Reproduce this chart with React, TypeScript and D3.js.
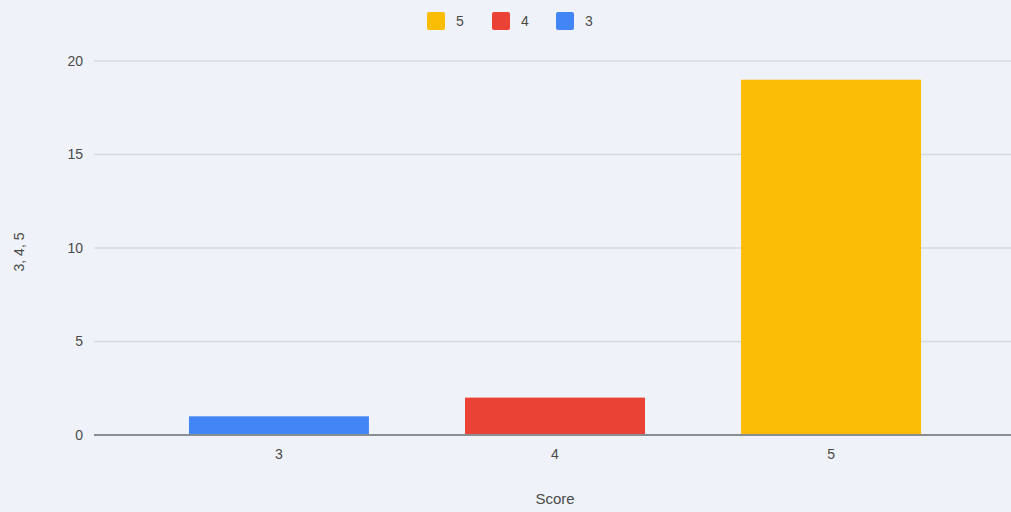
import React from "react";
import * as d3 from "d3";

const categories = ["3", "4", "5"];
const values = [1, 2, 19];
const seriesColors = ["#4285F4", "#EA4335", "#FBBC04"];
const legendItems = ["5", "4", "3"];
const legendColors = ["#FBBC04", "#EA4335", "#4285F4"];
const yTicks = [0, 5, 10, 15, 20];
const xTitle = "Score";
const yTitle = "3, 4, 5";

const W = 1011;
const H = 512;
const left = 94;
const right = 1016;
const top = 61;
const bottom = 435;

export default function App() {
  const x = d3
    .scaleBand<string>()
    .domain(categories)
    .range([left, right])
    .paddingInner(0.348)
    .paddingOuter(0.344);
  const y = d3.scaleLinear().domain([0, 20]).range([bottom, top]);
  const font = "'Liberation Sans', Arial, sans-serif";
  const textColor = "#4a4a4a";

  const legendX = [427, 492, 556];
  return (
    <svg
      width={W}
      height={H}
      style={{ position: "absolute", left: 0, top: 0, display: "block" }}
      fontFamily={font}
    >
      <rect x={0} y={0} width={W} height={H} fill="#eff3f9" />
      {yTicks.map((t) => (
        <g key={t}>
          {t !== 0 && (
            <line x1={left} x2={W} y1={y(t)} y2={y(t)} stroke="#d6dae0" strokeWidth={1.5} />
          )}
          <text
            x={left - 11}
            y={y(t)}
            dy="0.35em"
            textAnchor="end"
            fontSize={14}
            fill={textColor}
          >
            {t}
          </text>
        </g>
      ))}
      {categories.map((c, i) => (
        <g key={c}>
          <rect
            x={x(c)}
            y={y(values[i])}
            width={x.bandwidth()}
            height={y(0) - y(values[i])}
            fill={seriesColors[i]}
          />
          <text
            x={(x(c) as number) + x.bandwidth() / 2}
            y={454}
            dy="0.35em"
            textAnchor="middle"
            fontSize={14}
            fill={textColor}
          >
            {c}
          </text>
        </g>
      ))}
      <line x1={left} x2={W} y1={y(0)} y2={y(0)} stroke="#8a8d91" strokeWidth={2} />
      <text x={555} y={499} dy="0.35em" textAnchor="middle" fontSize={15} fill={textColor}>
        {xTitle}
      </text>
      <text
        transform={`translate(19,${252}) rotate(-90)`}
        dy="0.35em"
        textAnchor="middle"
        fontSize={14}
        fill={textColor}
      >
        {yTitle}
      </text>
      {legendItems.map((l, i) => (
        <g key={l}>
          <rect x={legendX[i]} y={12} width={18} height={18} rx={2} fill={legendColors[i]} />
          <text x={legendX[i] + 29} y={21} dy="0.35em" fontSize={14} fill={textColor}>
            {l}
          </text>
        </g>
      ))}
    </svg>
  );
}
